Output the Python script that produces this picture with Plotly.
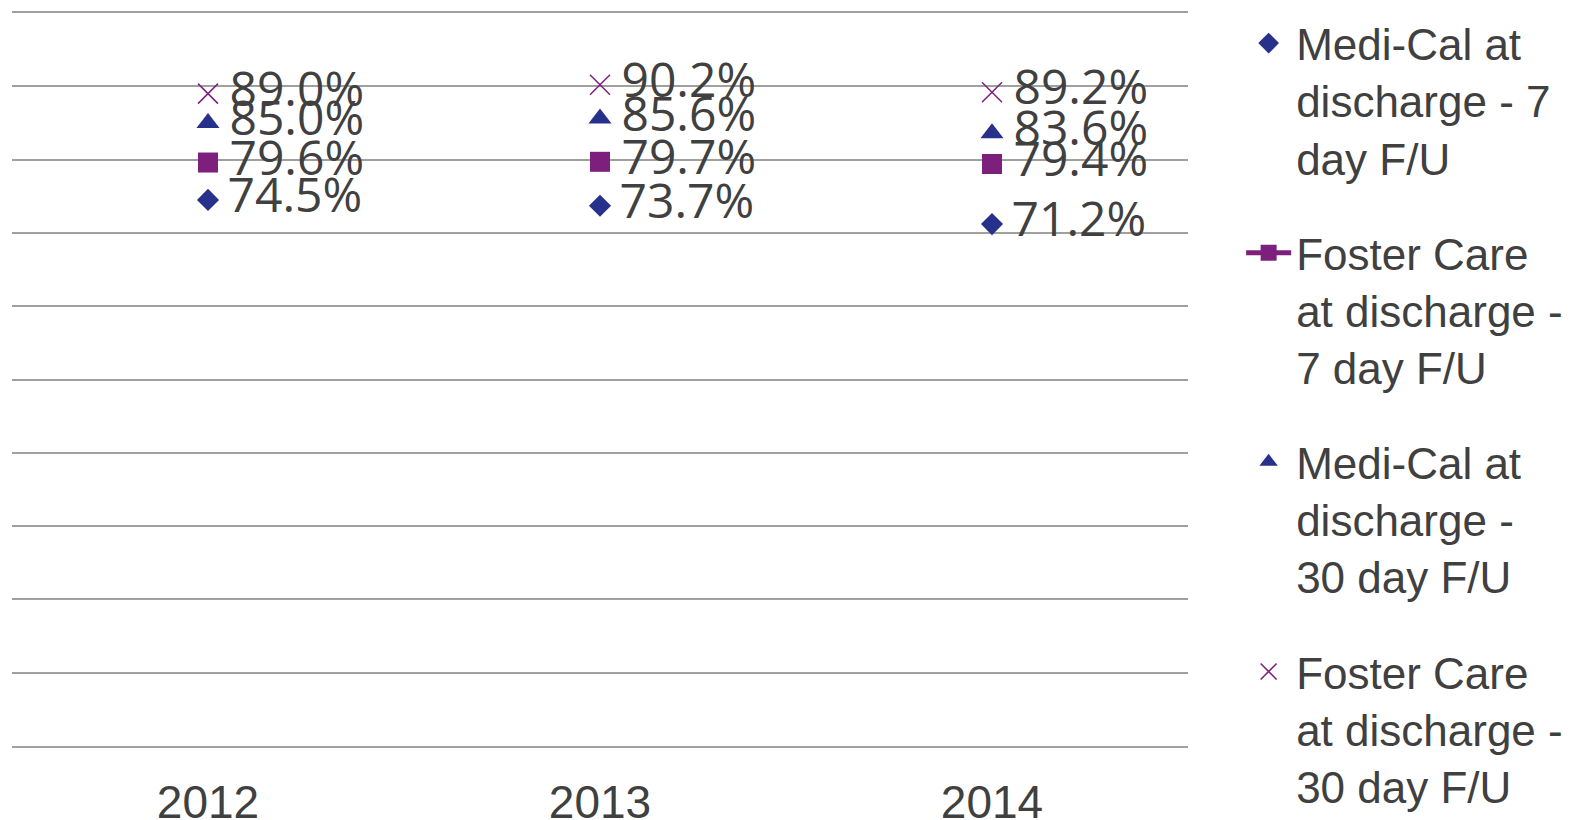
import plotly.graph_objects as go

# Follow-up rates after discharge, by year
years = ["2012", "2013", "2014"]
medi_cal_7 = [74.5, 73.7, 71.2]
foster_7 = [79.6, 79.7, 79.4]
medi_cal_30 = [85.0, 85.6, 83.6]
foster_30 = [89.0, 90.2, 89.2]

names = [
    "Medi-Cal at<br>discharge - 7<br>day F/U",
    "Foster Care<br>at discharge -<br>7 day F/U",
    "Medi-Cal at<br>discharge -<br>30 day F/U",
    "Foster Care<br>at discharge -<br>30 day F/U",
]

blue = "#27318B"
purple = "#7D1F7D"
text_col = "#404040"
grid_col = "#A0A0A0"

series = [
    (medi_cal_7, "diamond", 17, blue),
    (foster_7, "square", 20, purple),
    (medi_cal_30, "triangle-up", 20, blue),
    (foster_30, "x-thin", 20, purple),
]
# two legend boxes so the tall entries are not cut off
legend_of = ["legend", "legend", "legend2", "legend2"]

fig = go.Figure()
for i, (vals, sym, sz, col) in enumerate(series):
    marker = dict(symbol=sym, size=sz, color=col)
    if sym == "x-thin":
        marker["line"] = dict(color=col, width=1.5)
    fig.add_trace(go.Scatter(
        x=years, y=vals, mode="markers+text",
        text=["\u2009" + f"{v:.1f}%" for v in vals],
        textposition="middle right",
        textfont=dict(family="Open Sans", size=48, color=text_col),
        marker=marker, name=names[i], legendgroup=str(i),
        legend=legend_of[i], showlegend=(i != 1), legendrank=i,
    ))
    if i == 1:
        # legend entry for this series carries a line
        fig.add_trace(go.Scatter(
            x=[None], y=[None], mode="lines+markers",
            marker=dict(symbol="square", size=16, color=purple),
            line=dict(color=purple, width=5),
            name=names[i], legendgroup=str(i), legend=legend_of[i],
            legendrank=i,
        ))

fig.update_xaxes(range=[-0.5, 2.5], showgrid=False, zeroline=False,
                 showline=True, mirror=True, linecolor=grid_col, linewidth=2,
                 tickfont=dict(family="Liberation Sans", size=46, color=text_col),
                 ticklabelstandoff=15, automargin=False)
fig.update_yaxes(range=[0, 100], dtick=10, showticklabels=False,
                 gridcolor=grid_col, gridwidth=2, zeroline=False, showline=False,
                 automargin=False)

legend_style = dict(
    xref="container", yref="container", x=0.778,
    xanchor="left", yanchor="top", valign="top",
    font=dict(family="Liberation Sans", size=44, color=text_col),
    tracegroupgap=35, traceorder="grouped", itemwidth=45,
)

# page body adds 8px around the plot, so the figure is 8px smaller
fig.update_layout(
    width=1585, height=812,
    margin=dict(l=4, r=405, t=5, b=74),
    plot_bgcolor="white", paper_bgcolor="white",
    legend=dict(legend_style, y=1.006),
    legend2=dict(legend_style, y=0.4843),
)

fig.write_html("out.html")
